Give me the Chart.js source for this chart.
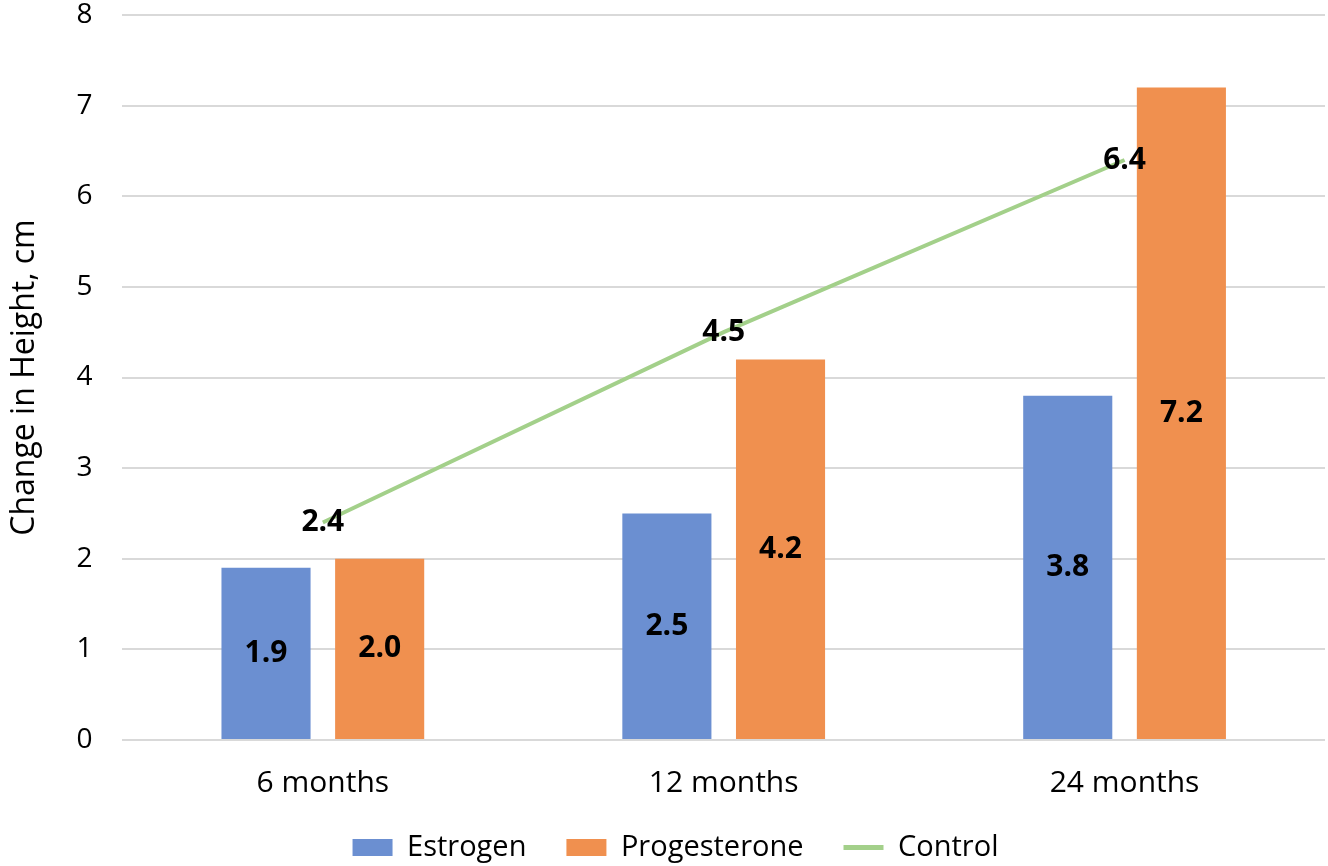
<!DOCTYPE html>
<html>
<head>
<meta charset="utf-8">
<script src="https://cdn.jsdelivr.net/npm/chart.js@4"></script>
<style>
  html, body { margin: 0; padding: 0; background: #fff; }
  #wrap { width: 1328px; height: 866px; }
</style>
</head>
<body>
<div id="wrap"><canvas id="chart"></canvas></div>
<script>
// chart data
const categories = ['6 months', '12 months', '24 months'];
const estrogen = [1.9, 2.5, 3.8];
const progesterone = [2.0, 4.2, 7.2];
const control = [2.4, 4.5, 6.4];

const fontFamily = "'Open Sans', 'Noto Sans', sans-serif";

// draws the value labels (bars: middle of bar, line: on the point)
const valueLabels = {
    id: 'valueLabels',
    afterDatasetsDraw(chart) {
        const ctx = chart.ctx;
        ctx.save();
        ctx.font = 'bold 30px ' + fontFamily;
        ctx.fillStyle = '#000';
        ctx.textAlign = 'center';
        ctx.textBaseline = 'middle';
        chart.data.datasets.forEach(function(ds, i) {
            const meta = chart.getDatasetMeta(i);
            meta.data.forEach(function(el, j) {
                const txt = ds.data[j].toFixed(1);
                let y = el.y;
                if (ds.type !== 'line') {
                    y = (el.y + el.base) / 2;
                }
                ctx.fillText(txt, el.x, y);
            });
        });
        ctx.restore();
    }
};

// keep the wide gaps between legend items without a tall legend box,
// and nudge it a bit right like the original
const legendTweak = {
    id: 'legendTweak',
    beforeInit(chart) {
        const origFit = chart.legend.fit;
        chart.legend.fit = function() {
            origFit.bind(chart.legend)();
            this.height = 73;
        };
    },
    afterLayout(chart) {
        chart.legend.left += 13;
        chart.legend.right += 13;
    }
};

const ctx = document.getElementById('chart').getContext('2d');
new Chart(ctx, {
    type: 'bar',
    data: {
        labels: categories,
        datasets: [{
            label: 'Estrogen',
            data: estrogen,
            backgroundColor: '#6b8fd1',
            borderWidth: 0,
            categoryPercentage: 0.567,
            barPercentage: 0.784,
            order: 2
        }, {
            label: 'Progesterone',
            data: progesterone,
            backgroundColor: '#f0904f',
            borderWidth: 0,
            categoryPercentage: 0.567,
            barPercentage: 0.784,
            order: 2
        }, {
            type: 'line',
            label: 'Control',
            data: control,
            borderColor: '#a3d08a',
            backgroundColor: '#a3d08a',
            borderWidth: 4,
            pointRadius: 0,
            order: 1
        }]
    },
    options: {
        responsive: true,
        maintainAspectRatio: false,
        animation: false,
        layout: {
            padding: { left: 0, right: 3, top: 0, bottom: 0 }
        },
        plugins: {
            legend: {
                position: 'bottom',
                labels: {
                    font: { family: fontFamily, size: 29 },
                    color: '#000',
                    usePointStyle: true,
                    pointStyleWidth: 40,
                    boxHeight: 17,
                    padding: 40,
                    generateLabels: function(chart) {
                        return chart.data.datasets.map(function(ds, i) {
                            const isLine = ds.type === 'line';
                            return {
                                text: ds.label,
                                fillStyle: ds.backgroundColor,
                                strokeStyle: isLine ? ds.borderColor : ds.backgroundColor,
                                lineWidth: isLine ? 5 : 0,
                                pointStyle: isLine ? 'line' : 'rect',
                                fontColor: '#000',
                                datasetIndex: i
                            };
                        });
                    }
                }
            },
            tooltip: { enabled: false }
        },
        scales: {
            x: {
                grid: { display: false },
                border: { display: false },
                afterFit: function(scale) {
                    scale.height = 53;
                },
                ticks: {
                    font: { family: fontFamily, size: 30 },
                    color: '#000',
                    padding: 17
                }
            },
            y: {
                min: 0,
                max: 8,
                afterFit: function(scale) {
                    scale.paddingTop = 15;
                },
                ticks: {
                    stepSize: 1,
                    font: { family: fontFamily, size: 28 },
                    color: '#000',
                    padding: 30
                },
                grid: { color: '#d9d9d9', lineWidth: 2, drawTicks: false },
                border: { display: false },
                title: {
                    display: true,
                    text: 'Change in Height, cm',
                    font: { family: fontFamily, size: 32 },
                    color: '#000',
                    padding: { top: 6, bottom: 2 }
                }
            }
        }
    },
    plugins: [valueLabels, legendTweak]
});
</script>
</body>
</html>
